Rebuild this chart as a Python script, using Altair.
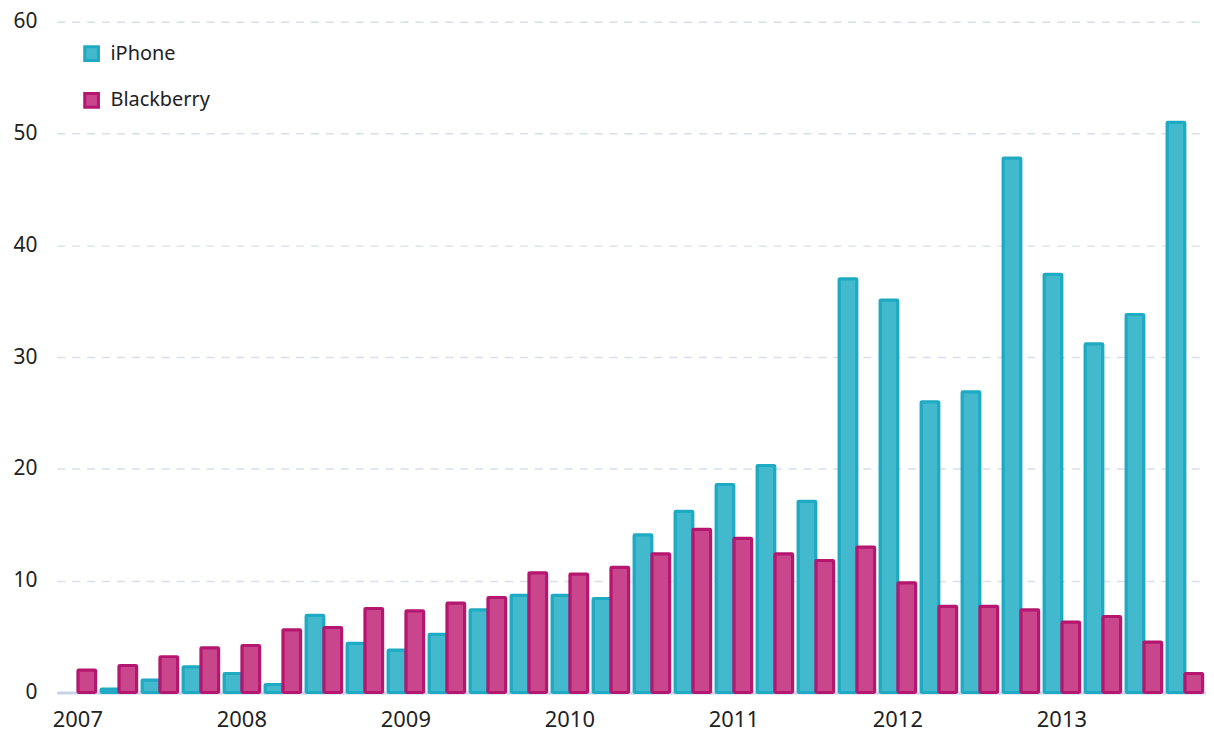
import altair as alt
import pandas as pd

quarters = [f"{y} Q{q}" for y in range(2007, 2014) for q in range(1, 5)]
iphone = [0, 0.3, 1.1, 2.3, 1.7, 0.7, 6.9, 4.4, 3.8, 5.2, 7.4, 8.7, 8.7, 8.4, 14.1, 16.2,
          18.6, 20.3, 17.1, 37.0, 35.1, 26.0, 26.9, 47.8, 37.4, 31.2, 33.8, 51.0]
blackberry = [2.0, 2.4, 3.2, 4.0, 4.2, 5.6, 5.8, 7.5, 7.3, 8.0, 8.5, 10.7, 10.6, 11.2, 12.4, 14.6,
              13.8, 12.4, 11.8, 13.0, 9.8, 7.7, 7.7, 7.4, 6.3, 6.8, 4.5, 1.7]
series = ["iPhone", "Blackberry"]

rows = []
for i, q in enumerate(quarters):
    rows.append({"quarter": q, "series": "iPhone", "value": iphone[i]})
    rows.append({"quarter": q, "series": "Blackberry", "value": blackberry[i]})
df = pd.DataFrame(rows)

FONT = "Noto Sans"
fill_colors = ["#42b9cd", "#ca468c"]
stroke_colors = ["#1eaac3", "#b5166f"]

chart = alt.Chart(df).transform_filter("datum.value > 0").mark_bar(
    strokeWidth=3, strokeJoin="round", cornerRadius=1
).encode(
    x=alt.X("quarter:O", sort=quarters, title=None,
            scale=alt.Scale(paddingInner=0.13, paddingOuter=0.08),
            axis=alt.Axis(labelAngle=0, tickSize=0, labelOverlap=False, labelPadding=17,
                          labelExpr="indexof(datum.label, 'Q1') >= 0 ? slice(datum.label, 0, 4) : ''",
                          domainColor="#c8d3e3", domainWidth=3,
                          labelFont=FONT, labelFontSize=22, labelColor="#222222")),
    xOffset=alt.XOffset("series:N", sort=series),
    y=alt.Y("value:Q", title=None,
            scale=alt.Scale(domain=[0, 60], nice=False),
            axis=alt.Axis(values=[0, 10, 20, 30, 40, 50, 60], domain=False, ticks=False,
                          labelPadding=20, gridDash=[8, 7], gridColor="#d6dfeb", gridWidth=1.5,
                          labelFont=FONT, labelFontSize=21, labelColor="#222222")),
    fill=alt.Fill("series:N", sort=series, scale=alt.Scale(domain=series, range=fill_colors),
                  legend=alt.Legend(title=None, orient="none", legendX=25, legendY=22,
                                    symbolType="square", symbolSize=190, symbolStrokeWidth=3,
                                    rowPadding=21, labelOffset=9, padding=0,
                                    labelFont=FONT, labelFontSize=20, labelColor="#222222")),
    stroke=alt.Stroke("series:N", sort=series, scale=alt.Scale(domain=series, range=stroke_colors)),
).properties(
    width=1155, height=674,
    autosize=alt.AutoSizeParams(type="none"),
    padding={"left": 49, "top": 12, "right": 0, "bottom": 40},
).configure_view(stroke=None)

chart.save("out.html", embed_options={"renderer": "svg", "actions": False})
